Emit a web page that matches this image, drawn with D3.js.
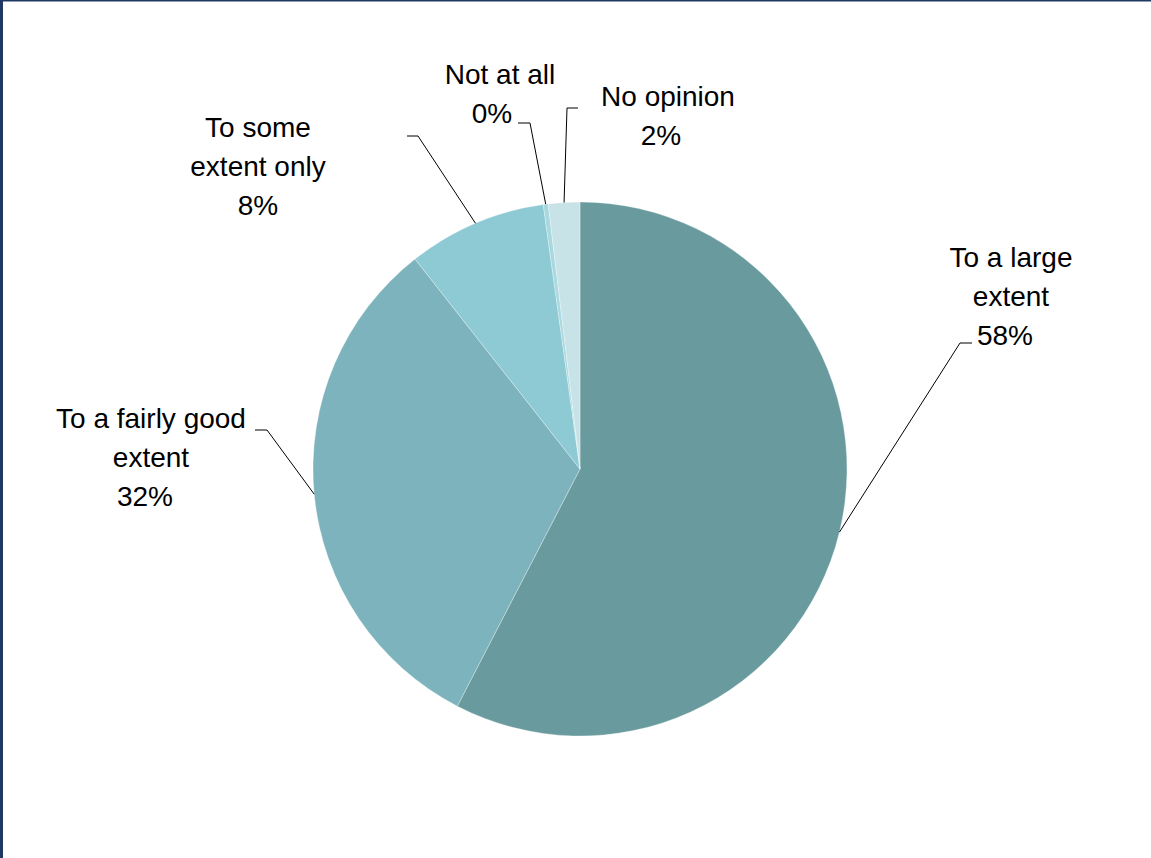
<!DOCTYPE html>
<html>
<head>
<meta charset="utf-8">
<script src="https://cdn.jsdelivr.net/npm/d3@7"></script>
<style>
  body { margin: 0; background: #fff; }
  #chart-area { width: 1151px; height: 858px; }
</style>
</head>
<body>
<div id="chart-area"></div>
<script>
// Data
var categories = ["To a large extent", "To a fairly good extent", "To some extent only", "Not at all", "No opinion"];
var values = [57.6, 31.8, 8.4, 0.3, 1.9];
var labelLines = [
    ["To a large", "extent"],
    ["To a fairly good", "extent"],
    ["To some", "extent only"],
    ["Not at all"],
    ["No opinion"]
];
var colors = ["#699a9e", "#7db3bc", "#8ecad4", "#a8d8e0", "#c8e3e8"];

// label layout: text center x, percent center x, first baseline y, leader elbow and end
var labelPos = [
    { x: 1011, px: 1005, y: 267, elbow: [960, 343], end: [972, 343] },
    { x: 151, px: 145, y: 428, elbow: [267, 430], end: [255, 430] },
    { x: 258, px: 258, y: 137, elbow: [418, 136], end: [407, 136] },
    { x: 500, px: 492, y: 84, elbow: [530, 123], end: [518, 123] },
    { x: 668, px: 661, y: 106, elbow: [567, 108], end: [578, 108] }
];

var width = 1151;
var height = 858;
var cx = 580, cy = 469, radius = 267;
var lineH = 39;

var svg = d3.select("#chart-area")
    .append("svg")
    .attr("width", width)
    .attr("height", height);

// frame
svg.append("rect").attr("x", 0).attr("y", 0).attr("width", width).attr("height", 1.5).attr("fill", "#1f3864");
svg.append("rect").attr("x", 0).attr("y", 0).attr("width", 3).attr("height", height).attr("fill", "#1f3864");

var data = categories.map((c, i) => ({ name: c, value: values[i], lines: labelLines[i], color: colors[i], pos: labelPos[i] }));

var pie = d3.pie().sort(null).value((d) => d.value);
var arc = d3.arc().innerRadius(0).outerRadius(radius);
var arcs = pie(data);

var g = svg.append("g").attr("transform", "translate(" + cx + ", " + cy + ")");

g.selectAll("path.slice")
    .data(arcs)
    .enter()
    .append("path")
    .attr("class", "slice")
    .attr("d", arc)
    .attr("fill", (d) => d.data.color)
    .attr("stroke", "#ffffff")
    .attr("stroke-opacity", 0.5)
    .attr("stroke-width", 0.6);

// leader lines
g.selectAll("polyline.leader")
    .data(arcs)
    .enter()
    .append("polyline")
    .attr("class", "leader")
    .attr("points", (d) => {
        var a = (d.startAngle + d.endAngle) / 2;
        var px = radius * Math.sin(a), py = -radius * Math.cos(a);
        var p = d.data.pos;
        return [[px, py], [p.elbow[0] - cx, p.elbow[1] - cy], [p.end[0] - cx, p.end[1] - cy]].join(" ");
    })
    .attr("fill", "none")
    .attr("stroke", "#000")
    .attr("stroke-width", 1);

// labels
var total = d3.sum(values);
var labels = svg.selectAll("text.label")
    .data(arcs)
    .enter()
    .append("text")
    .attr("class", "label")
    .attr("font-family", "Liberation Sans, Arial, sans-serif")
    .attr("font-size", "28px")
    .attr("fill", "#000")
    .attr("text-anchor", "middle");

labels.each(function (d) {
    var t = d3.select(this);
    var p = d.data.pos;
    d.data.lines.forEach((s, i) => {
        t.append("tspan")
            .attr("x", p.x)
            .attr("y", p.y + i * lineH)
            .text(s);
    });
    t.append("tspan")
        .attr("x", p.px)
        .attr("y", p.y + d.data.lines.length * lineH)
        .text(Math.round(d.data.value / total * 100) + "%");
});
</script>
</body>
</html>
